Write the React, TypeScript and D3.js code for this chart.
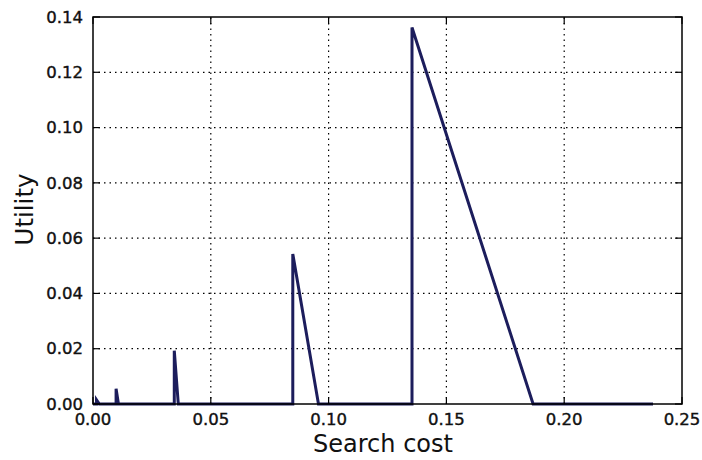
import React, { useEffect, useRef } from 'react';
import * as d3 from 'd3';

// utility curve (vertical rise then linear fall)
const costs = [0, 0.0015, 0.0015, 0.0027, 0.0098, 0.0098, 0.0108, 0.0345, 0.0345, 0.0362, 0.0848, 0.0848, 0.0957, 0.1354, 0.1354, 0.1868, 0.2377];
const utility = [0, 0, 0.0015, 0, 0, 0.0055, 0, 0, 0.0193, 0, 0, 0.0543, 0, 0, 0.1362, 0, 0];

const xTicks = [0, 0.05, 0.1, 0.15, 0.2, 0.25];
const yTicks = [0, 0.02, 0.04, 0.06, 0.08, 0.1, 0.12, 0.14];

const App = () => {
  const svgRef = useRef<SVGSVGElement>(null);

  useEffect(() => {
    const width = 702;
    const height = 460;
    const margin = { top: 17, right: 20, bottom: 56, left: 93 };
    const font = 'DejaVu Sans, sans-serif';

    const svg = d3.select(svgRef.current);
    svg.selectAll('*').remove();
    svg.attr('width', width).attr('height', height);

    const x = d3.scaleLinear().domain([0, 0.25]).range([margin.left, width - margin.right]);
    const y = d3.scaleLinear().domain([0, 0.14]).range([height - margin.bottom, margin.top]);

    const [x0, x1] = x.range();
    const [y0, y1] = y.range();

    // grid
    const grid = svg.append('g').attr('stroke', '#000').attr('stroke-width', 1.2).attr('stroke-dasharray', '1.5,4');
    xTicks.slice(1, -1).forEach(t => {
      grid.append('line').attr('x1', x(t)).attr('x2', x(t)).attr('y1', y0).attr('y2', y1);
    });
    yTicks.slice(1, -1).forEach(t => {
      grid.append('line').attr('x1', x0).attr('x2', x1).attr('y1', y(t)).attr('y2', y(t));
    });

    // line
    const pts = costs.map((c, i) => [c, utility[i]] as [number, number]);
    const line = d3.line<[number, number]>().x(d => x(d[0])).y(d => y(d[1]));
    svg.append('path')
      .datum(pts)
      .attr('fill', 'none')
      .attr('stroke', '#1c1d5c')
      .attr('stroke-width', 3)
      .attr('stroke-linejoin', 'miter')
      .attr('d', line);

    // frame
    svg.append('rect')
      .attr('x', x0).attr('y', y1)
      .attr('width', x1 - x0).attr('height', y0 - y1)
      .attr('fill', 'none').attr('stroke', '#000').attr('stroke-width', 1.5);

    // inward ticks on all sides
    const ticks = svg.append('g').attr('stroke', '#000').attr('stroke-width', 1.2);
    xTicks.forEach(t => {
      ticks.append('line').attr('x1', x(t)).attr('x2', x(t)).attr('y1', y0).attr('y2', y0 - 7);
      ticks.append('line').attr('x1', x(t)).attr('x2', x(t)).attr('y1', y1).attr('y2', y1 + 7);
    });
    yTicks.forEach(t => {
      ticks.append('line').attr('x1', x0).attr('x2', x0 + 7).attr('y1', y(t)).attr('y2', y(t));
      ticks.append('line').attr('x1', x1).attr('x2', x1 - 7).attr('y1', y(t)).attr('y2', y(t));
    });

    // tick labels
    svg.append('g').selectAll('text').data(xTicks).enter().append('text')
      .attr('x', d => x(d)).attr('y', y0 + 21)
      .attr('text-anchor', 'middle')
      .attr('font-family', font).attr('font-size', 16.5)
      .attr('fill', '#111').attr('stroke', '#111').attr('stroke-width', 0.4)
      .text(d => d.toFixed(2));

    svg.append('g').selectAll('text').data(yTicks).enter().append('text')
      .attr('x', x0 - 10).attr('y', d => y(d)).attr('dy', '0.35em')
      .attr('text-anchor', 'end')
      .attr('font-family', font).attr('font-size', 16.5)
      .attr('fill', '#111').attr('stroke', '#111').attr('stroke-width', 0.4)
      .text(d => d.toFixed(2));

    // axis titles
    svg.append('text')
      .attr('x', 383).attr('y', height - 8)
      .attr('text-anchor', 'middle')
      .attr('font-family', font).attr('font-size', 24)
      .attr('fill', '#111')
      .text('Search cost');

    svg.append('text')
      .attr('transform', `translate(33, ${(y0 + y1) / 2 - 1}) rotate(-90)`)
      .attr('text-anchor', 'middle')
      .attr('font-family', font).attr('font-size', 24.5)
      .attr('fill', '#111')
      .text('Utility');
  }, []);

  return (
    <div style={{ position: 'absolute', left: 0, top: 0 }}>
      <svg ref={svgRef}></svg>
    </div>
  );
};

export default App;
